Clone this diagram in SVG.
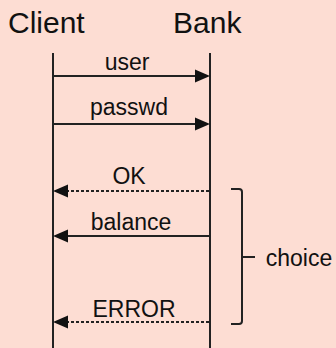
<svg xmlns="http://www.w3.org/2000/svg" width="336" height="348" viewBox="0 0 336 348">
  <defs>
    <style>
      .title { font-family: "Liberation Sans", Arial, sans-serif; font-size: 30px; fill: #111; }
      .lbl { font-family: "Liberation Sans", Arial, sans-serif; font-size: 23px; fill: #111; text-anchor: middle; }
      .life { stroke: #222; stroke-width: 2; fill: none; }
      .msg { stroke: #222; stroke-width: 2; fill: none; }
      .dot { stroke: #222; stroke-width: 2; fill: none; stroke-dasharray: 3 2; }
      .head { fill: #111; }
    </style>
  </defs>
  <rect width="336" height="348" fill="#FDDDD3"/>

  <g id="client">
    <text class="title" x="8" y="33">Client</text>
    <line class="life" x1="53" y1="53" x2="53" y2="348"/>
  </g>
  <g id="bank">
    <text class="title" x="173" y="33">Bank</text>
    <line class="life" x1="210" y1="53" x2="210" y2="348"/>
  </g>

  <g id="connectors">
    <g id="msg-user">
      <line class="msg" x1="53" y1="76" x2="198" y2="76"/>
      <polygon class="head" points="210,76 195,69.5 195,82.5"/>
      <text class="lbl" x="127" y="70">user</text>
    </g>
    <g id="msg-passwd">
      <line class="msg" x1="53" y1="124" x2="198" y2="124"/>
      <polygon class="head" points="210,124 195,117.5 195,130.5"/>
      <text class="lbl" x="129" y="115">passwd</text>
    </g>
    <g id="msg-ok">
      <line class="dot" x1="66" y1="191" x2="210" y2="191"/>
      <polygon class="head" points="53,191 68,184.5 68,197.5"/>
      <text class="lbl" x="129" y="184">OK</text>
    </g>
    <g id="msg-balance">
      <line class="msg" x1="65" y1="236" x2="210" y2="236"/>
      <polygon class="head" points="53,236 68,229.5 68,242.5"/>
      <text class="lbl" x="131" y="230">balance</text>
    </g>
    <g id="msg-error">
      <line class="dot" x1="66" y1="322" x2="210" y2="322"/>
      <polygon class="head" points="53,322 68,315.5 68,328.5"/>
      <text class="lbl" x="134" y="317">ERROR</text>
    </g>
  </g>

  <g id="choice">
    <path d="M231,189 H239 Q242,189 242,192 V321 Q242,324 239,324 H231" stroke="#222" stroke-width="2" fill="none"/>
    <line x1="242" y1="257" x2="255" y2="257" stroke="#222" stroke-width="2"/>
    <text class="lbl" x="299" y="266">choice</text>
  </g>
</svg>
